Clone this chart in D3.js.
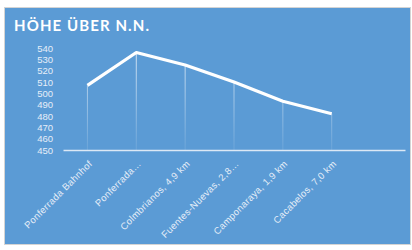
<!doctype html>
<html>
<head>
<meta charset="utf-8">
<title>Höhe über N.N.</title>
<script src="https://d3js.org/d3.v7.min.js"></script>
<style>
  body { margin:0; background:#fff; }
  svg { display:block; font-family: Lato, "Open Sans", sans-serif; }
</style>
</head>
<body>
<div id="chart"></div>
<script>
// Daten
var orte = ["Ponferrada Bahnhof", "Ponferrada…", "Colmbrianos, 4,9 km", "Fuentes-Nuevas, 2,8…", "Camponaraya, 1,9 km", "Cacabelos, 7,0 km", ""];
var hoehe = [507, 536, 525, 510, 493, 482];
var yTicks = [450, 460, 470, 480, 490, 500, 510, 520, 530, 540];

var width = 412, height = 250;
var padding = {left:63, right:7, top:48, bottom:100};

var svg = d3.select("#chart").append("svg")
  .attr("width", width)
  .attr("height", height);

// Hintergrund
svg.append("rect")
  .attr("x", 4.5).attr("y", 7.5)
  .attr("width", 406).attr("height", 237)
  .attr("fill", "#5b9bd5")
  .attr("stroke", "#d4d4d4");

svg.append("text")
  .attr("x", 14).attr("y", 31)
  .attr("fill", "#fff")
  .attr("font-size", 15)
  .attr("font-weight", "bold")
  .attr("letter-spacing", 1.1)
  .text("HÖHE ÜBER N.N.");

var xScale = d3.scaleBand()
  .domain(d3.range(orte.length))
  .range([padding.left, width - padding.right]);

var yScale = d3.scaleLinear()
  .domain([450, 540])
  .range([height - padding.bottom, padding.top]);

// Verlauf fuer die Fallinien
var grad = svg.append("defs").append("linearGradient")
  .attr("id", "fade")
  .attr("gradientUnits", "userSpaceOnUse")
  .attr("x1", 0).attr("x2", 0)
  .attr("y1", yScale(540)).attr("y2", yScale(450));
grad.append("stop").attr("offset", "0%").attr("stop-color", "#fff").attr("stop-opacity", 0.75);
grad.append("stop").attr("offset", "100%").attr("stop-color", "#fff").attr("stop-opacity", 0.1);

// y-Achse (nur Beschriftung)
var yAxis = svg.append("g")
  .attr("transform", "translate(" + (padding.left - 10) + ",0)")
  .call(d3.axisLeft(yScale).tickValues(yTicks).tickSize(0).tickPadding(0));
yAxis.select(".domain").remove();
yAxis.selectAll("text")
  .attr("fill", "#e6eef8")
  .attr("font-size", 9.5);

// Fallinien
svg.selectAll(".drop")
  .data(hoehe)
  .enter()
  .append("line")
  .attr("class", "drop")
  .attr("x1", function(d, i){ return xScale(i) + xScale.bandwidth()/2; })
  .attr("x2", function(d, i){ return xScale(i) + xScale.bandwidth()/2; })
  .attr("y1", function(d){ return yScale(d); })
  .attr("y2", yScale(450))
  .attr("stroke", "url(#fade)")
  .attr("stroke-width", 1);

// x-Achse
var xAxis = svg.append("g")
  .attr("transform", "translate(0," + yScale(450) + ")")
  .call(d3.axisBottom(xScale).tickSize(0).tickFormat(function(i){ return orte[i]; }));
xAxis.select(".domain")
  .attr("stroke", "#dce8f5")
  .attr("stroke-width", 1.5);
xAxis.selectAll("text")
  .attr("fill", "#e6eef8")
  .attr("font-size", 9.5)
  .attr("letter-spacing", 0.35)
  .attr("text-anchor", "end")
  .attr("x", 0).attr("y", 0).attr("dy", "0.35em")
  .attr("transform", "translate(3,12) rotate(-45)");

// Linie
var line = d3.line()
  .x(function(d, i){ return xScale(i) + xScale.bandwidth()/2; })
  .y(function(d){ return yScale(d); });

svg.append("path")
  .datum(hoehe)
  .attr("d", line)
  .attr("fill", "none")
  .attr("stroke", "#fff")
  .attr("stroke-width", 3.2)
  .attr("stroke-linejoin", "round");
</script>
</body>
</html>
